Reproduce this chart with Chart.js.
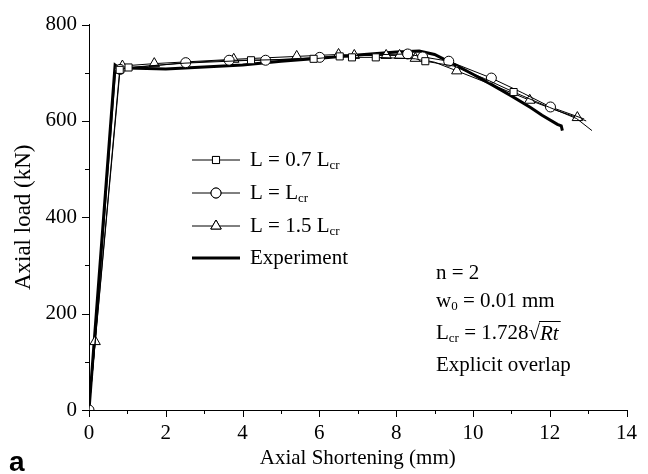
<!DOCTYPE html>
<html lang="en">

<head>
    <meta charset="UTF-8">
    <title>Axial load vs shortening</title>
    <script src="https://cdn.jsdelivr.net/npm/chart.js"></script>
    <style>
        body { margin: 0; background: white; }
        #box { position: relative; width: 648px; height: 474px; }
    </style>
</head>

<body>
    <div id="box">
        <canvas id="myChart" width="648" height="474"></canvas>
    </div>
</body>

</html>
<script>
    // dados (mm, kN)
    var expX = [0, 0.68, 0.75, 1.0, 2.0, 3.0, 4.0, 5.0, 6.0, 7.0, 8.0, 8.6, 9.0, 9.5, 10.0, 10.5, 11.0, 11.5, 11.8, 12.2, 12.3, 12.33];
    var expY = [0, 716, 712, 710, 708, 712, 716, 724, 730, 737, 743, 745, 738, 718, 697, 675, 652, 628, 612, 593, 590, 580];

    var sqX = [0, 0.80, 1.03, 2.5, 4.22, 5.85, 6.53, 6.85, 7.47, 8.5, 8.76, 9.5, 10.3, 11.06, 12.0, 12.7, 13.1];
    var sqY = [0, 706, 711, 720, 726, 729, 734, 732, 732, 729, 724, 714, 688, 660, 628, 605, 580];

    var ciX = [0, 0.81, 1.05, 2.52, 3.65, 4.6, 6.01, 7.2, 8.3, 8.69, 9.37, 10.48, 11.3, 12.02, 12.9];
    var ciY = [0, 707, 710, 721, 726, 726, 732, 737, 739, 733, 724, 689, 658, 629, 604];

    var trX = [0, 0.16, 0.70, 0.87, 1.7, 3.77, 5.41, 6.5, 6.91, 7.74, 8.09, 8.5, 9.0, 9.58, 10.5, 11.48, 12.1, 12.72, 12.95];
    var trY = [0, 142, 712, 714, 719, 728, 734, 738, 736, 736, 736, 730, 722, 704, 675, 643, 624, 607, 600];

    var xTicks = [0, 2, 4, 6, 8, 10, 12, 14];
    var yTicks = [0, 200, 400, 600, 800];

    // quais pontos levam marcador
    var sqMarks = [1, 2, 4, 5, 6, 7, 8, 10, 13];
    var ciMarks = [0, 1, 3, 4, 5, 6, 8, 9, 10, 11, 13];
    var trMarks = [1, 3, 4, 5, 6, 7, 8, 9, 10, 11, 13, 15, 17];

    function pares(xs, ys) {
        var out = [];
        for (var i = 0; i < xs.length; i++) out.push({ x: xs[i], y: ys[i] });
        return out;
    }

    function serie(xs, ys, estilo, marcas, raio) {
        return {
            data: pares(xs, ys),
            showLine: true,
            borderColor: '#000',
            borderWidth: 1,
            backgroundColor: '#fff',
            pointStyle: estilo,
            pointBorderWidth: 1,
            pointBorderColor: '#000',
            pointBackgroundColor: '#fff',
            pointRadius: function (c) { return marcas.includes(c.dataIndex) ? raio : 0; },
            pointHoverRadius: 0
        };
    }

    var serif = "'Liberation Serif', 'Times New Roman', serif";

    // texto com subscrito
    function textoSub(ctx, x, y, partes) {
        partes.forEach(function (p) {
            if (p.sub) {
                ctx.font = '13px ' + serif;
                ctx.fillText(p.t, x, y + 6);
            } else {
                ctx.font = (p.italic ? 'italic ' : '') + '21px ' + serif;
                ctx.fillText(p.t, x, y);
            }
            x += ctx.measureText(p.t).width;
        });
        return x;
    }

    var extras = {
        id: 'extras',
        afterDraw: function (chart) {
            var ctx = chart.ctx;
            var sx = chart.scales.x, sy = chart.scales.y;
            ctx.save();
            ctx.strokeStyle = '#000';
            ctx.fillStyle = '#000';
            ctx.lineWidth = 1;

            // ticks maiores e menores (para fora)
            ctx.beginPath();
            for (var v = 0; v <= 14; v++) {
                var px = Math.round(sx.getPixelForValue(v)) + 0.5;
                var len = v % 2 == 0 ? 7 : 4;
                ctx.moveTo(px, sy.bottom);
                ctx.lineTo(px, sy.bottom + len);
            }
            for (var w = 0; w <= 800; w += 100) {
                var py = Math.round(sy.getPixelForValue(w)) + 0.5;
                var len2 = w % 200 == 0 ? 7 : 4;
                ctx.moveTo(sx.left, py);
                ctx.lineTo(sx.left - len2, py);
            }
            ctx.stroke();

            // legenda
            var linhas = [
                { y: 160, estilo: 'rect', parts: [{ t: 'L = 0.7 L' }, { t: 'cr', sub: true }] },
                { y: 193, estilo: 'circle', parts: [{ t: 'L = L' }, { t: 'cr', sub: true }] },
                { y: 226, estilo: 'triangle', parts: [{ t: 'L = 1.5 L' }, { t: 'cr', sub: true }] },
                { y: 258, estilo: null, parts: [{ t: 'Experiment' }] }
            ];
            ctx.textBaseline = 'middle';
            linhas.forEach(function (l) {
                ctx.beginPath();
                ctx.lineWidth = l.estilo ? 1 : 3;
                ctx.moveTo(192, l.y);
                ctx.lineTo(240, l.y);
                ctx.stroke();
                if (l.estilo) {
                    ctx.lineWidth = 1;
                    ctx.fillStyle = '#fff';
                    Chart.helpers.drawPoint(ctx, { pointStyle: l.estilo, radius: l.estilo == 'triangle' ? 6 : 5, borderWidth: 1, rotation: 0 }, 216, l.y);
                    ctx.fill();
                    ctx.stroke();
                    ctx.fillStyle = '#000';
                }
                textoSub(ctx, 250, l.y, l.parts);
            });

            // anotacoes
            var ax = 436;
            textoSub(ctx, ax, 273, [{ t: 'n = 2' }]);
            textoSub(ctx, ax, 301, [{ t: 'w' }, { t: '0', sub: true }, { t: ' = 0.01 mm' }]);
            var xr = textoSub(ctx, ax, 333, [{ t: 'L' }, { t: 'cr', sub: true }, { t: ' = 1.728' }]);
            ctx.font = '21px ' + serif;
            ctx.fillText('\u221A', xr, 333);
            var xr2 = xr + ctx.measureText('\u221A').width;
            var xr3 = textoSub(ctx, xr2, 334, [{ t: 'Rt', italic: true }]);
            ctx.beginPath();
            ctx.lineWidth = 1;
            ctx.moveTo(xr2 - 1, 321.5);
            ctx.lineTo(xr3 + 2, 321.5);
            ctx.stroke();
            textoSub(ctx, ax, 365, [{ t: 'Explicit overlap' }]);

            // letra do painel
            ctx.font = "bold 28px 'Liberation Sans', Arial, sans-serif";
            ctx.textBaseline = 'alphabetic';
            ctx.fillText('a', 9, 471);
            ctx.restore();
        }
    };

    var datasets = [
        serie(sqX, sqY, 'rect', sqMarks, 5),
        serie(ciX, ciY, 'circle', ciMarks, 5),
        serie(trX, trY, 'triangle', trMarks, 6),
        {
            data: pares(expX, expY),
            showLine: true,
            borderColor: '#000',
            borderWidth: 3,
            pointRadius: 0,
            pointHoverRadius: 0
        }
    ];

    var myChart = new Chart(document.getElementById('myChart'), {
        type: 'scatter',
        data: { datasets: datasets },
        plugins: [extras],
        options: {
            responsive: false,
            animation: false,
            events: [],
            layout: { padding: { left: 0, right: 20, top: 16, bottom: 0 } },
            plugins: { legend: { display: false }, tooltip: { enabled: false } },
            elements: { line: { tension: 0 } },
            scales: {
                x: {
                    type: 'linear', min: 0, max: 14,
                    afterFit: function (s) { s.height = 64; },
                    afterBuildTicks: function (s) { s.ticks = xTicks.map(function (v) { return { value: v }; }); },
                    grid: { drawOnChartArea: false, drawTicks: false },
                    border: { display: true, color: '#000', width: 1 },
                    ticks: { color: '#000', padding: 11, font: { family: serif, size: 21 } },
                    title: { display: true, text: 'Axial Shortening (mm)', color: '#000', padding: { top: 0, bottom: 3 }, font: { family: serif, size: 21 } }
                },
                y: {
                    type: 'linear', min: 0, max: 800,
                    afterFit: function (s) { s.width = 89; },
                    afterBuildTicks: function (s) { s.ticks = yTicks.map(function (v) { return { value: v }; }); },
                    grid: { drawOnChartArea: false, drawTicks: false },
                    border: { display: true, color: '#000', width: 1 },
                    ticks: { color: '#000', padding: 12, font: { family: serif, size: 21 } },
                    title: { display: true, text: 'Axial load (kN)', color: '#000', padding: { top: 10, bottom: 0 }, font: { family: serif, size: 23 } }
                }
            }
        }
    });
</script>
